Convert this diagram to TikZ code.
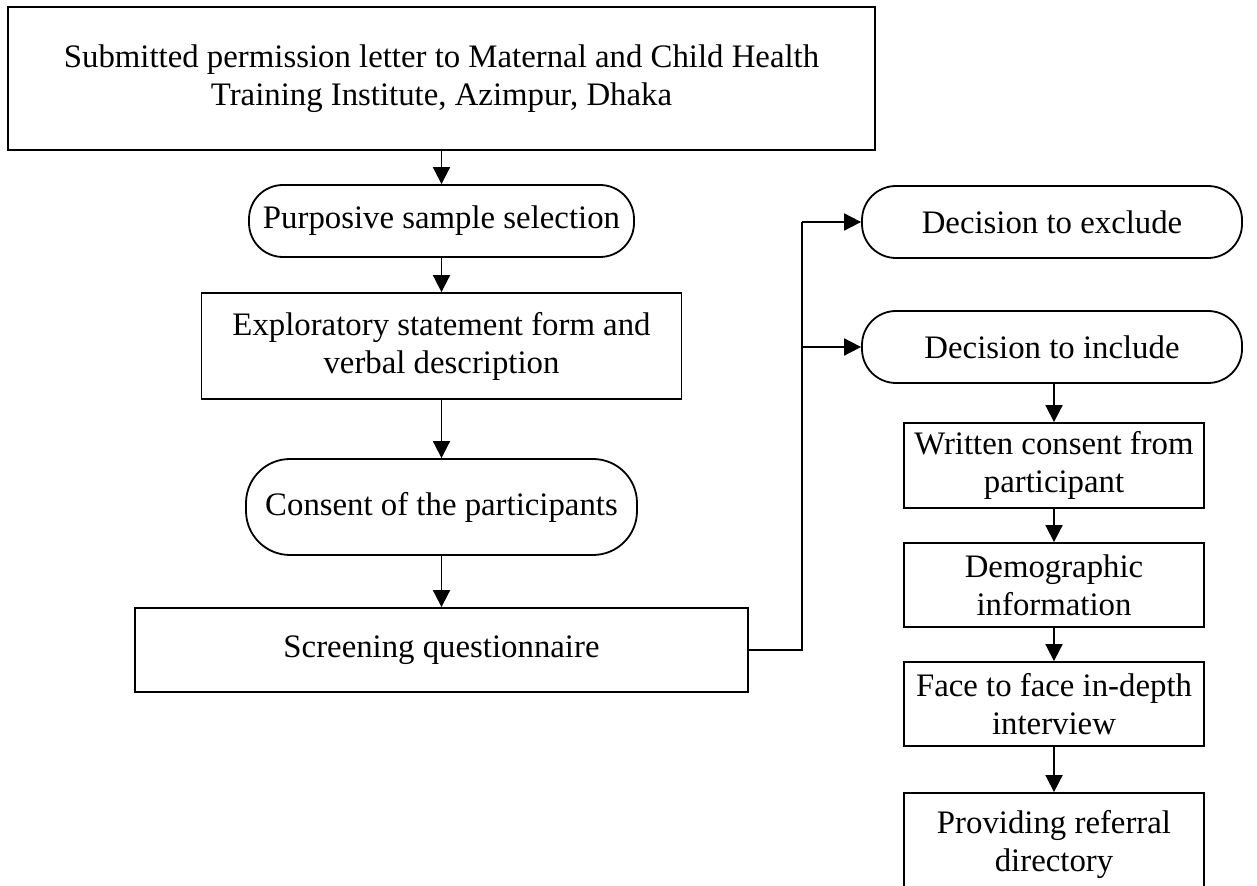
\documentclass[tikz,border=0pt]{standalone}
\usepackage{fontspec}
\setmainfont{Liberation Serif}
\usetikzlibrary{arrows.meta}
\begin{document}
\begin{tikzpicture}[x=0.5pt,y=-0.5pt,
  every node/.style={inner sep=0pt, align=center,
    font=\fontsize{16.4}{19}\selectfont},
  box/.style={draw, line width=0.9pt, fill=white},
  pill/.style={draw, line width=0.9pt, fill=white, rounded corners=#1},
  pill/.default=17pt,
  flow/.style={line width=0.9pt, -{Triangle[length=8.5pt,width=8.5pt]}},
  link/.style={line width=0.9pt}]
\clip (0,0) rectangle (1257,886);
\fill[white] (0,0) rectangle (1257,886);

% left column
\node[box, minimum width=433.5pt, minimum height=71.5pt] (top) at (441.5,78.5)
  {Submitted permission letter to Maternal and Child Health\\Training Institute, Azimpur, Dhaka};
\node[pill, minimum width=192.5pt, minimum height=36pt] (purp) at (441.5,221)
  {Purposive sample selection};
\node[box, minimum width=240pt, minimum height=53pt] (expl) at (441.5,346)
  {Exploratory statement form and\\verbal description};
\node[pill=22pt, minimum width=195.5pt, minimum height=48pt] (cons) at (441.5,507)
  {Consent of the participants};
\node[box, minimum width=306.5pt, minimum height=42pt] (scr) at (441.5,650)
  {Screening questionnaire};

% right column
\node[pill, minimum width=190pt, minimum height=36pt] (excl) at (1052,222)
  {Decision to exclude};
\node[pill, minimum width=190pt, minimum height=36pt] (incl) at (1052,347)
  {Decision to include};
\node[box, minimum width=150pt, minimum height=42.5pt] (writ) at (1054,465.5)
  {Written consent from\\participant};
\node[box, minimum width=150pt, minimum height=42pt] (demo) at (1054,585)
  {Demographic\\information};
\node[box, minimum width=150pt, minimum height=42pt] (face) at (1054,704)
  {Face to face in-depth\\interview};
\node[box, minimum width=150pt, minimum height=51pt] (prov) at (1054,844)
  {Providing referral\\directory};

% connectors
\draw[flow] (top) -- (purp);
\draw[flow] (purp) -- (expl);
\draw[flow] (expl) -- (cons);
\draw[flow] (cons) -- (scr);

\coordinate (bus) at (802,0);
\draw[link] (scr.east) -| (bus |- excl.west);
\draw[flow] (bus |- excl.west) -- (excl.west);
\draw[flow] (bus |- incl.west) -- (incl.west);

\draw[flow] (writ.north |- incl.south) -- (writ.north);
\draw[flow] (writ) -- (demo);
\draw[flow] (demo) -- (face);
\draw[flow] (face) -- (prov);
\end{tikzpicture}
\end{document}
